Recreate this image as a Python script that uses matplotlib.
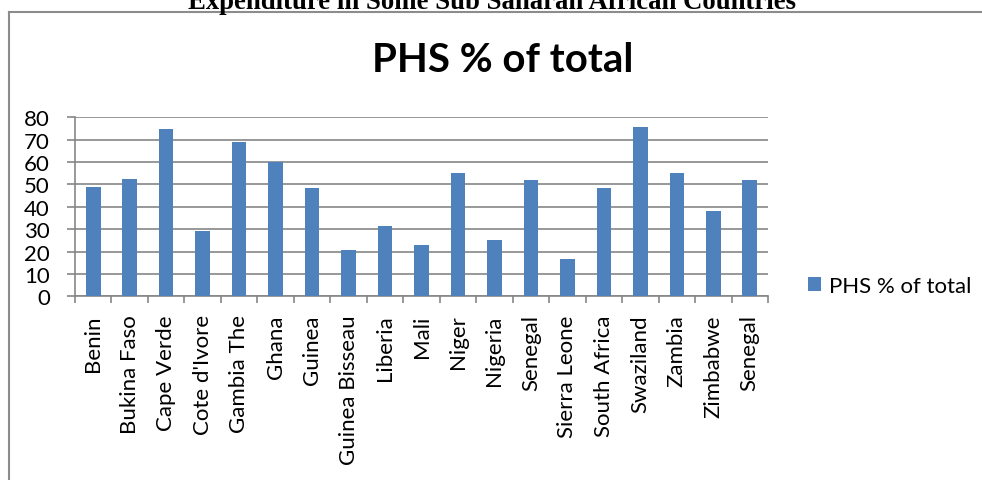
import matplotlib.pyplot as plt
from matplotlib.lines import Line2D
import numpy as np

# data
countries = ['Benin', 'Bukina Faso', 'Cape Verde', "Cote d'Ivore", 'Gambia The',
             'Ghana', 'Guinea', 'Guinea Bisseau', 'Liberia', 'Mali', 'Niger',
             'Nigeria', 'Senegal', 'Sierra Leone', 'South Africa', 'Swaziland',
             'Zambia', 'Zimbabwe', 'Senegal']
phs_pct = [49.0, 52.4, 74.9, 29.3, 69.0, 60.0, 48.5, 20.5, 31.4, 22.9, 55.2,
           25.0, 51.8, 16.8, 48.3, 75.8, 55.2, 38.3, 51.8]
yticks = [0, 10, 20, 30, 40, 50, 60, 70, 80]

W, H = 982, 481
plt.rcParams['font.family'] = ['Lato', 'DejaVu Sans']
fig = plt.figure(figsize=(W / 100, H / 100), dpi=100)

# axes placed in pixel coords
left, right, top, bottom = 75, 768, 118.3, 297.3
ax = fig.add_axes([left / W, 1 - bottom / H, (right - left) / W, (bottom - top) / H])

x = np.arange(len(countries))
bars = ax.bar(x, phs_pct, width=0.4, color='#4F81BD', label='PHS % of total', zorder=3)

grid_col = '#868686'
ax.set_xlim(-0.5, len(countries) - 0.5)
ax.set_ylim(0, 80)
ax.set_yticks(yticks)
ax.set_yticklabels([str(v) for v in yticks], fontsize=16)
ax.yaxis.grid(True, color=grid_col, linewidth=1.2, zorder=0)
ax.tick_params(axis='y', length=6, width=1.2, color=grid_col, pad=12)

# category boundaries get the tick marks, centres get the labels
ax.set_xticks(np.arange(len(countries) + 1) - 0.5)
ax.set_xticklabels([])
ax.tick_params(axis='x', which='major', length=5, width=1.2, color=grid_col)
ax.set_xticks(x, minor=True)
ax.set_xticklabels(countries, minor=True, rotation=90, fontsize=16, va='top')
ax.tick_params(axis='x', which='minor', length=0, pad=13)

for s in ['top', 'right']:
    ax.spines[s].set_visible(False)
for s in ['left', 'bottom']:
    ax.spines[s].set_color(grid_col)
    ax.spines[s].set_linewidth(1.2)

# legend
fig.legend(handles=[bars], loc='center left', bbox_to_anchor=(808 / W, 1 - 287 / H),
           frameon=False, fontsize=16, handlelength=0.6, handleheight=0.6,
           handletextpad=0.35, borderpad=0, borderaxespad=0)

# chart title
fig.text(503 / W, 1 - 60 / H, 'PHS % of total', ha='center', va='center',
         fontsize=29, fontweight='bold')

# cut-off caption from the page above the chart
fig.text(492 / W, 1 - 9 / H, 'Expenditure in Some Sub Saharan African Countries',
         ha='center', va='baseline', fontsize=19.3, fontweight='bold',
         family='Liberation Serif')

# chart frame (only top and left edges visible)
fig.add_artist(Line2D([9 / W, 1.01], [1 - 12.7 / H] * 2, color='#8C8C8C', lw=1.5))
fig.add_artist(Line2D([9 / W] * 2, [1 - 12.7 / H, -0.01], color='#8C8C8C', lw=1.5))

fig.savefig('out.png', dpi=100)
